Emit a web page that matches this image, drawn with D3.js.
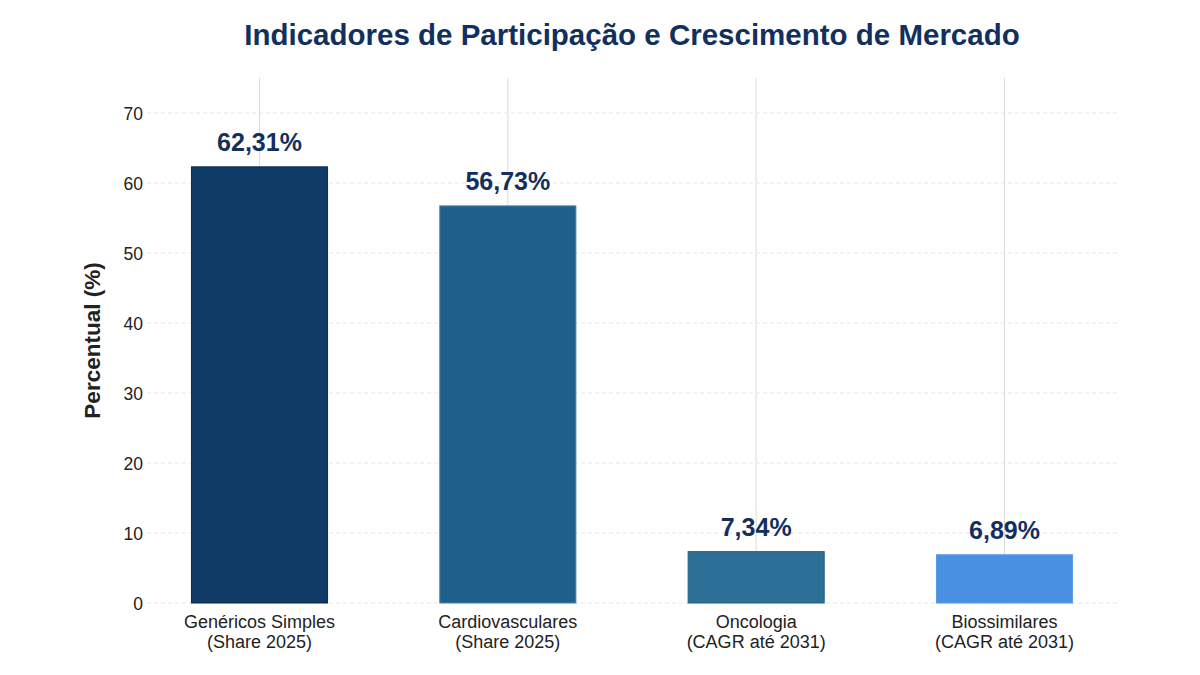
<!DOCTYPE html>
<html>
<head>
<meta charset="utf-8">
<script src="https://cdn.jsdelivr.net/npm/d3@7/dist/d3.min.js"></script>
<style>
  html, body { margin: 0; padding: 0; background: #fff; }
  svg text { font-family: "Liberation Sans", Arial, Helvetica, sans-serif; }
</style>
</head>
<body>
<svg id="chart" width="1200" height="675"></svg>
<script>
// data
var categories = [
  ["Genéricos Simples", "(Share 2025)"],
  ["Cardiovasculares", "(Share 2025)"],
  ["Oncologia", "(CAGR até 2031)"],
  ["Biossimilares", "(CAGR até 2031)"]
];
var values = [62.31, 56.73, 7.34, 6.89];
var yTicks = [0, 10, 20, 30, 40, 50, 60, 70];
var barColors = ["#0f3b66", "#1e5f8c", "#2c6f97", "#4a90e2"];
var barStrokes = ["#0a2a4e", "#4682b4", "#245f88", "#5a9be6"];

var svg = d3.select("#chart");
var margin = { top: 78, right: 83, bottom: 72, left: 147 };
var width = 1200 - margin.left - margin.right;
var height = 675 - margin.top - margin.bottom;

var x = d3.scalePoint()
  .domain(d3.range(categories.length))
  .range([0, width])
  .padding(0.453);
var barWidth = x.step() * 0.548;

var y = d3.scaleLinear().domain([0, 75]).range([height, 0]);

var g = svg.append("g").attr("transform", "translate(" + margin.left + "," + margin.top + ")");

// horizontal grid (dashed)
g.append("g").selectAll("line")
  .data(yTicks)
  .join("line")
  .attr("x1", 0).attr("x2", width)
  .attr("y1", function (d) { return y(d); })
  .attr("y2", function (d) { return y(d); })
  .attr("stroke", "#e6e6e6")
  .attr("stroke-width", 1)
  .attr("stroke-dasharray", "4,3");

// vertical grid at category centers
g.append("g").selectAll("line")
  .data(d3.range(categories.length))
  .join("line")
  .attr("x1", function (d) { return x(d); })
  .attr("x2", function (d) { return x(d); })
  .attr("y1", 0).attr("y2", height)
  .attr("stroke", "#dcdcdc")
  .attr("stroke-width", 1);

// bars
g.append("g").selectAll("rect")
  .data(values)
  .join("rect")
  .attr("x", function (d, i) { return x(i) - barWidth / 2; })
  .attr("y", function (d) { return y(d); })
  .attr("width", barWidth)
  .attr("height", function (d) { return y(0) - y(d); })
  .attr("fill", function (d, i) { return barColors[i]; })
  .attr("stroke", function (d, i) { return barStrokes[i]; })
  .attr("stroke-width", 1);

// value labels
g.append("g").selectAll("text")
  .data(values)
  .join("text")
  .attr("x", function (d, i) { return x(i); })
  .attr("y", function (d) { return y(d) - 16; })
  .attr("text-anchor", "middle")
  .attr("font-size", 25)
  .attr("font-weight", "bold")
  .attr("fill", "#142f5e")
  .text(function (d) { return d.toFixed(2).replace(".", ",") + "%"; });

// y axis
var yAxis = d3.axisLeft(y).tickValues(yTicks).tickSize(0).tickPadding(4);
var ya = g.append("g").call(yAxis);
ya.select(".domain").remove();
ya.selectAll("text")
  .attr("font-size", 17.5)
  .attr("fill", "#222")
  .attr("dy", "0.35em");

// x axis labels
var xa = g.append("g").attr("transform", "translate(0," + height + ")");
xa.selectAll("text")
  .data(categories)
  .join("text")
  .attr("text-anchor", "middle")
  .attr("font-size", 18)
  .attr("fill", "#222")
  .attr("x", function (d, i) { return x(i); })
  .attr("y", 25)
  .each(function (d) {
    var t = d3.select(this);
    d.forEach(function (line, k) {
      t.append("tspan")
        .attr("x", t.attr("x"))
        .attr("dy", k === 0 ? 0 : 20)
        .text(line);
    });
  });

// y axis title
svg.append("text")
  .attr("transform", "translate(100," + (margin.top + height / 2) + ") rotate(-90)")
  .attr("text-anchor", "middle")
  .attr("font-size", 22.5)
  .attr("font-weight", "bold")
  .attr("fill", "#222")
  .text("Percentual (%)");

// title
svg.append("text")
  .attr("x", margin.left + width / 2)
  .attr("y", 45)
  .attr("text-anchor", "middle")
  .attr("font-size", 29.5)
  .attr("font-weight", "bold")
  .attr("fill", "#12305e")
  .text("Indicadores de Participação e Crescimento de Mercado");
</script>
</body>
</html>
